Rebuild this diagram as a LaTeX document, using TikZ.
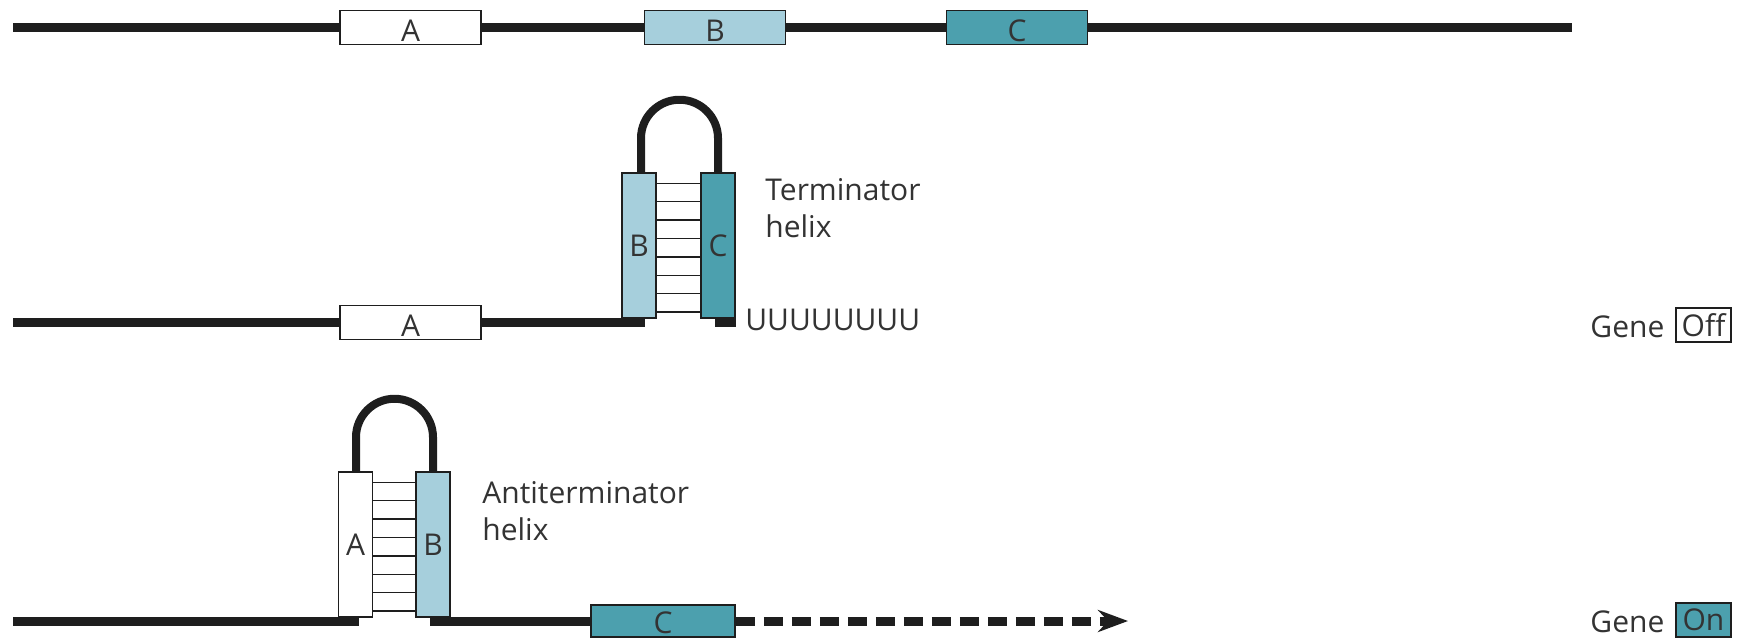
\documentclass[tikz,border=0pt]{standalone}
\usepackage{fontspec}
\setmainfont{Open Sans}
\usetikzlibrary{arrows.meta,calc}
\definecolor{cB}{RGB}{166,207,220}
\definecolor{cC}{RGB}{76,160,174}
\definecolor{txt}{RGB}{51,51,51}
\definecolor{ink}{RGB}{30,30,30}
\begin{document}
\begin{tikzpicture}[x=0.5pt,y=-0.5pt,
  rna/.style={line width=4.5pt, draw=ink},
  lbl/.style={font=\fontsize{15}{18.5}\selectfont, text=txt, inner sep=0pt},
  hbox/.style={draw=ink, line width=0.75pt, minimum width=70.5pt, minimum height=17pt, inner sep=0pt},
  vbox/.style={draw=ink, line width=0.75pt, minimum width=17pt, minimum height=72.5pt, inner sep=0pt, lbl},
  tagbox/.style={draw=ink, line width=0.75pt, minimum width=27.5pt, minimum height=17pt, inner sep=0pt, lbl},
  rung/.style={draw=ink, line width=0.75pt},
  hairloop/.style={draw=ink, line width=4pt},
]
\useasboundingbox (0,0) rectangle (1746,639);

% ---------- top row ----------
\coordinate (t0) at (13,27.5);
\coordinate (t1) at (1572,27.5);
\node[hbox, fill=white] (tA) at (410.5,27.5) {};
\node[hbox, fill=cB] (tB) at (715,27.5) {};
\node[hbox, fill=cC] (tC) at (1017,27.5) {};
\draw[rna] (t0) -- (tA.west) (tA.east) -- (tB.west) (tB.east) -- (tC.west) (tC.east) -- (t1);
\node[lbl, anchor=base] (tAl) at ($(tA.south)+(0,-3.5)$) {A};
\node[lbl, anchor=base] (tBl) at ($(tB.south)+(0,-3.5)$) {B};
\node[lbl, anchor=base] (tCl) at ($(tC.south)+(0,-3.5)$) {C};

% ---------- middle row (terminator) ----------
\coordinate (m0) at (13,322.5);
\coordinate (m1) at (645,322.5);
\coordinate (m2) at (715,322.5);
\coordinate (m3) at (736,322.5);
\node[hbox, fill=white] (mA) at (410.5,322.5) {};
\node[lbl, anchor=base] (mAl) at ($(mA.south)+(0,-3.5)$) {A};
\node[vbox, fill=cB] (vB) at (639,245.5) {B};
\node[vbox, fill=cC] (vC) at (718,245.5) {C};
\draw[rna] (m0) -- (mA.west) (mA.east) -- (m1) (m2) -- (m3);
\draw[hairloop] ($(vB.north)+(2,0)$) -- ++(0,-34) arc[start angle=180, end angle=360, radius=38.5] -- (vC.north);
\foreach \k in {0,...,7}{
  \pgfmathsetmacro{\dy}{11+18.4*\k}
  \draw[rung] ($(vB.north east)+(0,\dy)$) -- ($(vC.north west)+(0,\dy)$);
}
\node[lbl, anchor=base west] (uu) at (745,330) {UUUUUUUU};
\node[lbl, anchor=base west, align=left] (term) at (765,237) {Terminator\\helix};
\node[lbl, anchor=base west] (g1) at (1590,337) {Gene};
\node[tagbox, fill=white] (off) at (1703.5,325) {Off};

% ---------- bottom row (antiterminator) ----------
\coordinate (b0) at (13,621);
\coordinate (b1) at (359,621);
\coordinate (b2) at (430,621);
\coordinate (tip) at (1128,621);
\node[vbox, fill=white] (vA) at (355.5,544.5) {A};
\node[vbox, fill=cB] (vB2) at (433,544.5) {B};
\node[hbox, fill=cC, minimum width=72pt, minimum height=16pt] (lC) at (663,621) {};
\node[lbl, anchor=base] (lCl) at ($(lC.south)+(0,-4)$) {C};
\draw[rna] (b0) -- (b1) (b2) -- (lC.west);
\draw[hairloop] ($(vA.north)+(0.5,0)$) -- ++(0,-34) arc[start angle=180, end angle=360, radius=38.5] -- (vB2.north);
\foreach \k in {0,...,7}{
  \pgfmathsetmacro{\dy}{11+18.4*\k}
  \draw[rung] ($(vA.north east)+(0,\dy)$) -- ($(vB2.north west)+(0,\dy)$);
}
\draw[rna, dash pattern=on 9.5pt off 4.5pt, -{Stealth[length=15pt, width=11pt, inset=5pt]}] (lC.east) -- (tip);
\node[lbl, anchor=base west, align=left] (anti) at (482,540) {Antiterminator\\helix};
\node[lbl, anchor=base west] (g2) at (1590,632) {Gene};
\node[tagbox, fill=cC] (on) at (1703.5,620) {On};
\end{tikzpicture}
\end{document}
